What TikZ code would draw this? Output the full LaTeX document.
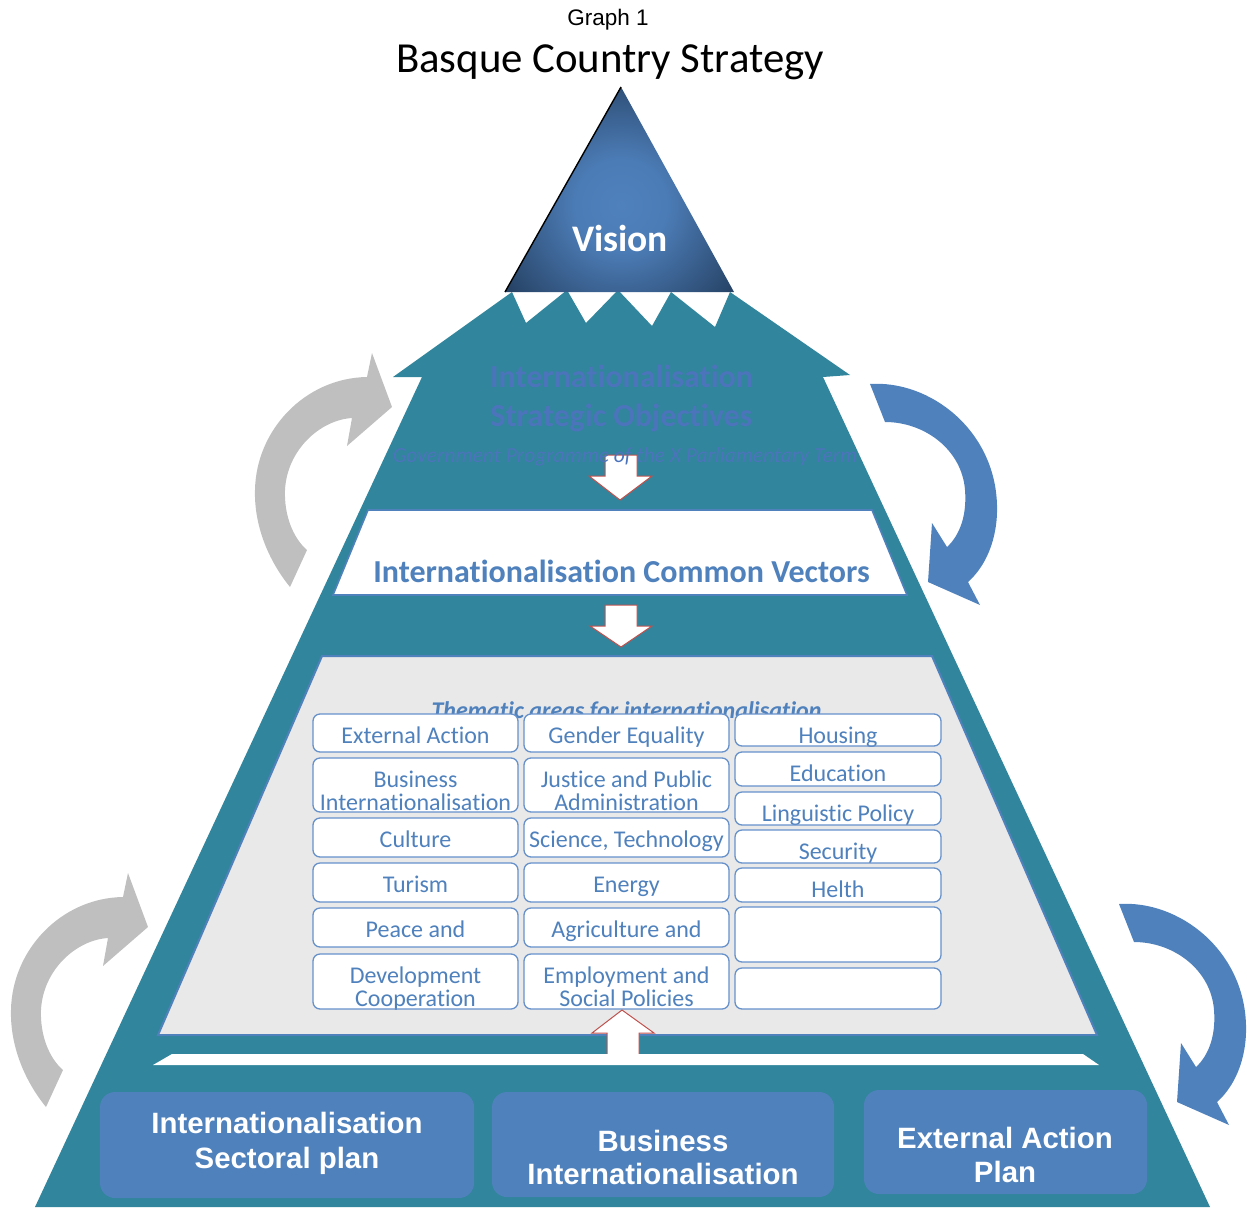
\documentclass[tikz,border=0pt]{standalone}
\usepackage{fontspec}
\setmainfont{Carlito}[Ligatures=NoCommon]
\newfontfamily\arialfont{Liberation Sans}
\definecolor{tealpyr}{HTML}{31859C}
\definecolor{acc1}{HTML}{4F81BD}
\definecolor{navy}{HTML}{243F60}
\definecolor{objtext}{HTML}{4C74BC}
\definecolor{panelgray}{HTML}{E9E9E9}
\definecolor{arrowred}{HTML}{C0504D}
\definecolor{grayarrow}{HTML}{BFBFBF}
\definecolor{boxborder}{HTML}{6791CB}
\pgfdeclareradialshading{visionshade}{\pgfpoint{0bp}{0bp}}{color(0bp)=(acc1); color(5bp)=(acc1!92!navy); color(16bp)=(navy); color(50bp)=(navy)}
\newcommand\thbox[7]{%
  \begin{scope}
    \clip[rounded corners=7pt] (#2,#3) rectangle (#4,#5);
    \fill[white] (#2,#3) rectangle (#4,#5);
    \node[thtext, anchor=base] (#1a) at ({(#2+#4)/2},{#3+29}) {#6};
    \node[thtext, anchor=base] (#1b) at ({(#2+#4)/2},{#3+52}) {#7};
  \end{scope}
  \draw[thframe] (#2,#3) rectangle (#4,#5);
}
\begin{document}
\begin{tikzpicture}[x=1pt,y=-1pt,
  thtext/.style={text=acc1, font=\fontsize{24}{24}\selectfont, inner sep=0pt},
  thframe/.style={draw=boxborder, line width=1.3pt, rounded corners=7pt},
  bigbox/.style={fill=acc1, rounded corners=15pt},
  bigtext/.style={text=white, font=\arialfont\bfseries\fontsize{29.4}{34}\selectfont, inner sep=0pt, anchor=base},
  wharrow/.style={fill=white, draw=arrowred, line width=1pt, line join=miter},
  objfont/.style={text=objtext, font=\bfseries\fontsize{32}{38}\selectfont, inner sep=0pt, anchor=base},
]
\useasboundingbox (0,0) rectangle (1247,1207);

% circular arrows (behind)
\fill[grayarrow] (290,587) .. controls (268,560) and (254,525) .. (255,490) .. controls (256,430) and (305,378) .. (367,377) -- (372,353) -- (392,407) -- (347,446) -- (352,418) .. controls (320,420) and (287,450) .. (285,490) .. controls (284,515) and (293,538) .. (307,550) -- cycle;
\begin{scope}[shift={(-244,520)}]
\fill[grayarrow] (290,587) .. controls (268,560) and (254,525) .. (255,490) .. controls (256,430) and (305,378) .. (367,377) -- (372,353) -- (392,407) -- (347,446) -- (352,418) .. controls (320,420) and (287,450) .. (285,490) .. controls (284,515) and (293,538) .. (307,550) -- cycle;
\end{scope}
\fill[acc1] (870,384) .. controls (930,380) and (995,430) .. (997,505) .. controls (998,540) and (985,567) .. (968,582) -- (980,605) -- (928,582) -- (932,523) -- (947,547) .. controls (960,535) and (967,515) .. (965,490) .. controls (962,450) and (925,422) .. (885,422) -- cycle;
\begin{scope}[shift={(249,520)}]
\fill[acc1] (870,384) .. controls (930,380) and (995,430) .. (997,505) .. controls (998,540) and (985,567) .. (968,582) -- (980,605) -- (928,582) -- (932,523) -- (947,547) .. controls (960,535) and (967,515) .. (965,490) .. controls (962,450) and (925,422) .. (885,422) -- cycle;
\end{scope}

% pyramid body with crown
\fill[tealpyr] (393,377) -- (512,292) -- (526,323) -- (567,290) -- (586,323) -- (618,290) -- (652,326) -- (671,292) -- (715,327) -- (730,292) -- (850,375) -- (823,377) -- (1210,1207) -- (35,1207) -- (422,377) -- cycle;

% vision triangle
\begin{scope}
  \clip (621,87) -- (734,292) -- (505,292) -- cycle;
  \shade[shading=visionshade] (621,205) circle (230);
\end{scope}
\draw[black, line width=1.4pt] (505,292) -- (621,87);
\node[text=white, font=\bfseries\fontsize{37.5}{40}\selectfont, inner sep=0pt, anchor=base] (vision) at (620,251) {Vision};

% titles
\node[font=\arialfont\fontsize{22.5}{24}\selectfont, inner sep=0pt, anchor=base] (graph) at (608,26) {Graph 1};
\node[font=\fontsize{42.8}{44}\selectfont, inner sep=0pt, anchor=base] (title) at (610,73) {Basque Country Strategy};

% strategic objectives
\draw[wharrow] (605,455) -- (605,476) -- (589,476) -- (620,500) -- (652,476) -- (637,476) -- (637,455) -- cycle;
\node[objfont] (obj1) at (621.5,387) {Internationalisation};
\node[objfont] (obj2) at (621.5,426) {Strategic Objectives};
\node[text=objtext, font=\itshape\fontsize{21.5}{24}\selectfont, inner sep=0pt, anchor=base] (gov) at (625,462) {Government Programme of the X Parliamentary Term};

% common vectors band
\filldraw[fill=white, draw=acc1, line width=1.6pt] (368,510) -- (872,510) -- (907,595) -- (333,595) -- cycle;
\node[text=acc1, font=\bfseries\fontsize{32}{36}\selectfont, inner sep=0pt, anchor=base] (cv) at (621.5,582) {Internationalisation Common Vectors};
\draw[wharrow] (605,605) -- (605,626) -- (590,626) -- (621,647) -- (652,626) -- (637,626) -- (637,605) -- cycle;

% thematic panel
\filldraw[fill=panelgray, draw=acc1, line width=2pt] (322,656) -- (932,656) -- (1097,1035) -- (158,1035) -- cycle;
\node[text=acc1, font=\bfseries\itshape\fontsize{24}{24}\selectfont, inner sep=0pt, anchor=base] (thtitle) at (626.5,718) {Thematic areas for internationalisation};

\thbox{ca}{313}{714}{518}{752}{External Action}{}
\thbox{cb}{313}{758}{518}{812}{Business}{Internationalisation}
\thbox{cc}{313}{818}{518}{857}{Culture}{}
\thbox{cd}{313}{863}{518}{902}{Turism}{}
\thbox{ce}{313}{908}{518}{947}{Peace and}{}
\thbox{cf}{313}{954}{518}{1009}{Development}{Cooperation}
\thbox{da}{524}{714}{729}{752}{Gender Equality}{}
\thbox{db}{524}{758}{729}{812}{Justice and Public}{Administration}
\thbox{dc}{524}{818}{729}{857}{Science, Technology}{}
\thbox{dd}{524}{863}{729}{902}{Energy}{}
\thbox{de}{524}{908}{729}{947}{Agriculture and}{}
\thbox{df}{524}{954}{729}{1009}{Employment and}{Social Policies}
\thbox{ea}{735}{714}{941}{746}{Housing}{}
\thbox{eb}{735}{752}{941}{786}{Education}{}
\thbox{ec}{735}{792}{941}{825}{Linguistic Policy}{}
\thbox{ed}{735}{830}{941}{863}{Security}{}
\thbox{ee}{735}{868}{941}{902}{Helth}{}
\thbox{ef}{735}{907}{941}{962}{}{}
\thbox{eg}{735}{968}{941}{1009}{}{}

% up arrow and white strip
\draw[wharrow] (607,1055) -- (607,1033) -- (592,1033) -- (622,1010) -- (654,1033) -- (639,1033) -- (639,1055) -- cycle;
\fill[white] (172,1054) -- (1083,1054) -- (1099,1065) -- (153,1065) -- cycle;

% bottom plans
\fill[bigbox] (100,1092) rectangle (474,1198);
\fill[bigbox] (492,1092) rectangle (834,1197);
\fill[bigbox] (864,1090) rectangle (1147,1194);
\node[bigtext] (p1a) at (287,1133) {Internationalisation};
\node[bigtext] (p1b) at (287,1168) {Sectoral plan};
\node[bigtext] (p2a) at (663,1151) {Business};
\node[bigtext] (p2b) at (663,1184) {Internationalisation};
\node[bigtext] (p3a) at (1005,1148) {External Action};
\node[bigtext] (p3b) at (1005,1182) {Plan};
\end{tikzpicture}
\end{document}
